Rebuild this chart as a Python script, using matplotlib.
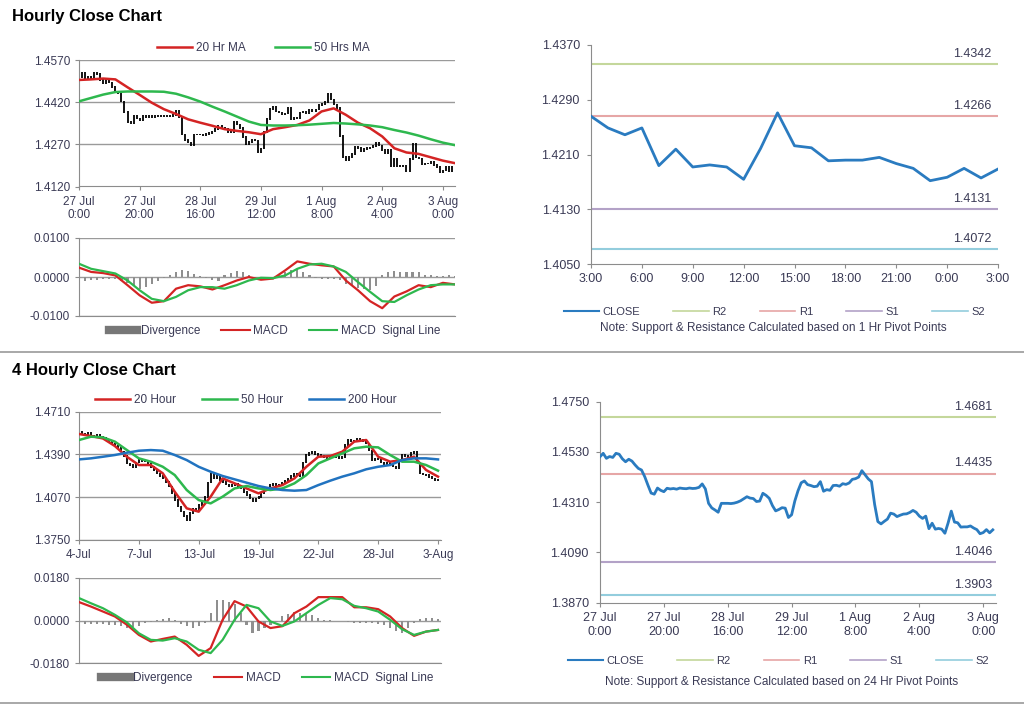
import numpy as np
import matplotlib
matplotlib.use('Agg')
import matplotlib.pyplot as plt
from matplotlib.lines import Line2D

plt.rcParams['font.family'] = ['Liberation Sans', 'DejaVu Sans']

# ---------------- data ----------------
# hourly closes, 27 Jul 0:00 -> 3 Aug 3:00
hourly_close = [
    1.4509, 1.4524, 1.4502, 1.4510, 1.4506, 1.4524, 1.4520, 1.4500, 1.4487, 1.4498,
    1.4490, 1.4473, 1.4458, 1.4451, 1.4422, 1.4385, 1.4350, 1.4345, 1.4372, 1.4362,
    1.4356, 1.4371, 1.4368, 1.4370, 1.4367, 1.4372, 1.4370, 1.4369, 1.4372, 1.4370,
    1.4371, 1.4375, 1.4390, 1.4368, 1.4305, 1.4285, 1.4276, 1.4266, 1.4305, 1.4305,
    1.4305, 1.4304, 1.4306, 1.4310, 1.4316, 1.4325, 1.4334, 1.4328, 1.4326, 1.4313,
    1.4315, 1.4349, 1.4340, 1.4327, 1.4295, 1.4272, 1.4278, 1.4286, 1.4284, 1.4243,
    1.4255, 1.4315, 1.4360, 1.4395, 1.4403, 1.4387, 1.4383, 1.4378, 1.4380, 1.4400,
    1.4358, 1.4365, 1.4362, 1.4383, 1.4384, 1.4380, 1.4391, 1.4388, 1.4394, 1.4410,
    1.4413, 1.4420, 1.4448, 1.4430, 1.4412, 1.4400, 1.4300, 1.4225, 1.4215, 1.4226,
    1.4236, 1.4262, 1.4258, 1.4247, 1.4253, 1.4258, 1.4259, 1.4265, 1.4274,
    1.4266, 1.4249, 1.4239, 1.4249, 1.4194, 1.4218, 1.4192, 1.4195, 1.4192, 1.4174,
    1.4219, 1.4271, 1.4223, 1.4220, 1.4201, 1.4202, 1.4202, 1.4206, 1.4197, 1.4190,
    1.4172, 1.4177, 1.4190, 1.4176, 1.4189]
hourly_labels = ['27 Jul\n0:00', '27 Jul\n20:00', '28 Jul\n16:00', '29 Jul\n12:00',
                 '1 Aug\n8:00', '2 Aug\n4:00', '3 Aug\n0:00']

# moving averages, one value every 4 hours
ma20_h = [1.4499, 1.4501, 1.4504, 1.4501, 1.4473, 1.4446, 1.4418, 1.4395, 1.4378, 1.4359,
          1.4347, 1.4336, 1.4324, 1.4318, 1.4313, 1.4306, 1.4324, 1.4331, 1.4339, 1.4355,
          1.4387, 1.4398, 1.4375, 1.4347, 1.4327, 1.4298, 1.4256, 1.4241, 1.4236, 1.4224,
          1.4212, 1.4203]
ma50_h = [1.4423, 1.4435, 1.4447, 1.4456, 1.4458, 1.4458, 1.4458, 1.4457, 1.4450, 1.4437,
          1.4422, 1.4404, 1.4387, 1.4369, 1.4351, 1.4339, 1.4337, 1.4337, 1.4338, 1.4340,
          1.4343, 1.4346, 1.4344, 1.4341, 1.4337, 1.4331, 1.4321, 1.4312, 1.4301, 1.4288,
          1.4276, 1.4267]
macd_h = [0.0024, 0.0013, 0.0010, 0.0004, -0.0021, -0.0047, -0.0066, -0.0062, -0.0030, -0.0021,
          -0.0024, -0.0032, -0.0021, -0.0009, 0.0000, -0.0007, -0.0004, 0.0017, 0.0040, 0.0034,
          0.0030, 0.0027, -0.0009, -0.0034, -0.0062, -0.0080, -0.0050, -0.0037, -0.0021, -0.0026,
          -0.0015, -0.0019]
signal_h = [0.0034, 0.0021, 0.0015, 0.0009, -0.0009, -0.0034, -0.0056, -0.0062, -0.0051, -0.0034,
            -0.0026, -0.0026, -0.0030, -0.0021, -0.0009, -0.0002, -0.0003, 0.0004, 0.0021, 0.0032,
            0.0034, 0.0027, 0.0013, -0.0013, -0.0038, -0.0062, -0.0064, -0.0047, -0.0032, -0.0021,
            -0.0019, -0.0019]
# divergence, one value every 2 hours
div_h = [-0.0010, -0.0009, -0.0008, -0.0007, -0.0006, -0.0005, -0.0006, -0.0010, -0.0016, -0.0024,
         -0.0030, -0.0026, -0.0018, -0.0010, -0.0003, 0.0006, 0.0014, 0.0019, 0.0016, 0.0008,
         0.0002, -0.0003, -0.0007, -0.0010, 0.0004, 0.0011, 0.0015, 0.0012, 0.0006, -0.0002,
         -0.0005, -0.0003, -0.0002, 0.0007, 0.0013, 0.0018, 0.0021, 0.0014, 0.0006, -0.0002,
         -0.0004, -0.0005, -0.0006, -0.0008, -0.0018, -0.0024, -0.0028, -0.0031, -0.0034, -0.0022,
         0.0004, 0.0013, 0.0015, 0.0014, 0.0013, 0.0012, 0.0012, 0.0006, 0.0004, 0.0003,
         0.0003, 0.0004, 0.0003]

# 4 hourly closes, 4 Jul -> 3 Aug
h4_close = [
    1.4560, 1.4548, 1.4543, 1.4550, 1.4528, 1.4532, 1.4535, 1.4520, 1.4512, 1.4500,
    1.4486, 1.4470, 1.4453, 1.4440, 1.4411, 1.4380, 1.4323, 1.4310, 1.4298, 1.4330,
    1.4348, 1.4340, 1.4336, 1.4320, 1.4298, 1.4270, 1.4249, 1.4230, 1.4211, 1.4185,
    1.4149, 1.4100, 1.4049, 1.4000, 1.3962, 1.3930, 1.3899, 1.3950, 1.3987, 1.3975,
    1.4012, 1.4040, 1.4074, 1.4180, 1.4249, 1.4210, 1.4236, 1.4200, 1.4186, 1.4165,
    1.4149, 1.4160, 1.4169, 1.4150, 1.4136, 1.4110, 1.4086, 1.4060, 1.4044, 1.4060,
    1.4074, 1.4100, 1.4119, 1.4140, 1.4161, 1.4170, 1.4154, 1.4165, 1.4179, 1.4195,
    1.4211, 1.4230, 1.4249, 1.4240, 1.4224, 1.4330, 1.4386, 1.4400, 1.4411, 1.4395,
    1.4386, 1.4380, 1.4373, 1.4365, 1.4368, 1.4372, 1.4370, 1.4360, 1.4373, 1.4460,
    1.4498, 1.4490, 1.4493, 1.4510, 1.4503, 1.4490, 1.4473, 1.4420, 1.4348, 1.4360,
    1.4353, 1.4330, 1.4311, 1.4325, 1.4323, 1.4300, 1.4286, 1.4350, 1.4386, 1.4380,
    1.4373, 1.4400, 1.4411, 1.4330, 1.4249, 1.4240, 1.4236, 1.4220, 1.4211, 1.4200,
    1.4194]
h4_labels = ['4-Jul', '7-Jul', '13-Jul', '19-Jul', '22-Jul', '28-Jul', '3-Aug']

ma20_4h = [1.4543, 1.4528, 1.4510, 1.4453, 1.4373, 1.4311, 1.4311, 1.4249, 1.4111, 1.3987,
           1.3962, 1.4074, 1.4211, 1.4174, 1.4136, 1.4099, 1.4136, 1.4161, 1.4211, 1.4298,
           1.4373, 1.4378, 1.4411, 1.4486, 1.4498, 1.4373, 1.4336, 1.4348, 1.4373, 1.4274,
           1.4224]
ma50_4h = [1.4498, 1.4523, 1.4518, 1.4486, 1.4423, 1.4361, 1.4336, 1.4298, 1.4236, 1.4124,
           1.4049, 1.4024, 1.4074, 1.4136, 1.4154, 1.4136, 1.4124, 1.4136, 1.4174, 1.4236,
           1.4323, 1.4361, 1.4398, 1.4436, 1.4448, 1.4443, 1.4386, 1.4336, 1.4336, 1.4311,
           1.4269]
ma200_4h = [1.4353, 1.4361, 1.4373, 1.4386, 1.4403, 1.4418, 1.4423, 1.4418, 1.4386, 1.4348,
            1.4298, 1.4261, 1.4229, 1.4204, 1.4179, 1.4154, 1.4136, 1.4124, 1.4119, 1.4124,
            1.4161, 1.4194, 1.4224, 1.4249, 1.4279, 1.4298, 1.4311, 1.4348, 1.4361, 1.4361,
            1.4353]
macd_4h = [0.0078, 0.0059, 0.0038, 0.0017, -0.0018, -0.0061, -0.0089, -0.0078, -0.0068, -0.0103,
           -0.0150, -0.0117, 0.0003, 0.0082, 0.0059, -0.0004, -0.0032, -0.0024, 0.0031, 0.0059,
           0.0099, 0.0099, 0.0099, 0.0056, 0.0056, 0.0048, 0.0017, -0.0032, -0.0065, -0.0047,
           -0.0040]
signal_4h = [0.0095, 0.0073, 0.0052, 0.0024, -0.0008, -0.0054, -0.0082, -0.0085, -0.0075, -0.0089,
             -0.0124, -0.0138, -0.0082, 0.0003, 0.0066, 0.0052, -0.0004, -0.0023, -0.0004, 0.0031,
             0.0066, 0.0095, 0.0090, 0.0062, 0.0052, 0.0038, 0.0003, -0.0037, -0.0061, -0.0047,
             -0.0040]
div_4h = [-0.0012, -0.0014, -0.0014, -0.0016, -0.0015, -0.0018, -0.0020, -0.0025, -0.0030, -0.0028,
          -0.0022, -0.0012, -0.0006, 0.0002, 0.0008, 0.0010, 0.0004, -0.0015, -0.0025, -0.0030,
          -0.0025, -0.0012, 0.0030, 0.0088, 0.0085, 0.0080, 0.0070, 0.0030, -0.0020, -0.0054,
          -0.0045, -0.0030, -0.0020, -0.0008, 0.0018, 0.0028, 0.0034, 0.0032, 0.0028, 0.0022,
          0.0010, 0.0004, 0.0002, 0.0000, -0.0004, -0.0008, -0.0010, -0.0012, -0.0010, -0.0012,
          -0.0015, -0.0020, -0.0030, -0.0045, -0.0054, -0.0030, -0.0010, 0.0006, 0.0012, 0.0010,
          0.0006]

# pivot levels
pivot_names = ['R2', 'R1', 'S1', 'S2']
pivot_1h = [1.4342, 1.4266, 1.4131, 1.4072]
pivot_24h = [1.4681, 1.4435, 1.4046, 1.3903]
hour_labels = ['3:00', '6:00', '9:00', '12:00', '15:00', '18:00', '21:00', '0:00', '3:00']

# ---------------- styles ----------------
RED = '#d42424'
GREEN = '#2eb84e'
BLUE = '#2173c0'
CLOSE_BLUE = '#2a7bc0'
PIVOT_COLORS = ['#c4d79b', '#e6a6a6', '#b3a2c7', '#93cddd']
GRID = '#9a9a9a'
SPINE = '#8c8c8c'
TXT = '#3a3a55'
W, H = 1024, 706


def box(l, t, r, b):
    return [l / W, 1 - b / H, (r - l) / W, (b - t) / H]


def style(ax, grid=True):
    for s in ['top', 'right']:
        ax.spines[s].set_visible(False)
    for s in ['left', 'bottom']:
        ax.spines[s].set_color(SPINE)
    ax.tick_params(colors=SPINE, labelcolor=TXT, labelsize=8.5, length=3)
    if grid:
        ax.yaxis.grid(True, color=GRID, lw=1)
        ax.set_axisbelow(True)


def price_panel(ax, close, ylim, step, labels, wick):
    close = np.asarray(close)
    x = np.arange(len(close))
    prev = np.r_[close[0], close[:-1]]
    ax.vlines(x, np.minimum(prev, close) - wick, np.maximum(prev, close) + wick,
              color='black', lw=1.3, zorder=2)
    ax.set_ylim(*ylim)
    ax.set_yticks(np.arange(ylim[0], ylim[1] + step / 2, step))
    ax.yaxis.set_major_formatter(matplotlib.ticker.FormatStrFormatter('%.4f'))
    ax.set_xticks(np.arange(0, 20 * len(labels), 20))
    ax.set_xticklabels(labels)
    style(ax)


def macd_panel(ax, n, macd, signal, div, lim):
    ax.bar(np.arange(len(div)) * 2, div, width=0.7, color='#8f8f8f', zorder=2)
    ax.plot(np.arange(len(macd)) * 4, macd, color=RED, lw=1.6, zorder=3)
    ax.plot(np.arange(len(signal)) * 4, signal, color=GREEN, lw=1.6, zorder=3)
    ax.set_xlim(0, n)
    ax.set_ylim(-lim, lim)
    ax.set_yticks([-lim, 0, lim])
    ax.yaxis.set_major_formatter(matplotlib.ticker.FormatStrFormatter('%.4f'))
    ax.set_xticks([])
    style(ax)
    handles = [Line2D([], [], color='#777777', lw=6),
               Line2D([], [], color=RED, lw=1.5),
               Line2D([], [], color=GREEN, lw=1.5)]
    ax.legend(handles, ['Divergence', 'MACD', 'MACD  Signal Line'], loc='upper center',
              bbox_to_anchor=(0.52, 0.02), ncol=3, frameon=False, fontsize=8.5,
              handlelength=2.4, handletextpad=0.3, columnspacing=1.8, labelcolor=TXT)


def pivot_panel(ax, x, close, levels, lab_x, xlim, ylim, step, ticks, labels, leg_y):
    ax.plot(x, close, color=CLOSE_BLUE, lw=2, zorder=3)
    for v, c in zip(levels, PIVOT_COLORS):
        ax.axhline(v, color=c, lw=1.5, zorder=2)
        ax.annotate(f'{v:.4f}', (lab_x, v), xytext=(0, 3), textcoords='offset points',
                    ha='center', va='bottom', fontsize=9, color=TXT)
    ax.set_xlim(*xlim)
    ax.set_ylim(*ylim)
    ax.set_yticks(np.arange(ylim[0], ylim[1] + step / 2, step))
    ax.yaxis.set_major_formatter(matplotlib.ticker.FormatStrFormatter('%.4f'))
    ax.set_xticks(ticks)
    ax.set_xticklabels(labels)
    style(ax, grid=False)
    ax.tick_params(labelsize=9)
    ax.tick_params(axis='y', pad=5)
    handles = [Line2D([], [], color=CLOSE_BLUE, lw=1.5)] + \
              [Line2D([], [], color=c, lw=1.2) for c in PIVOT_COLORS]
    ax.legend(handles, ['CLOSE'] + pivot_names, loc='upper center',
              bbox_to_anchor=(0.45, leg_y), ncol=5, frameon=False, fontsize=8,
              handlelength=3.2, handletextpad=0.3, columnspacing=3.0, labelcolor=TXT)


fig = plt.figure(figsize=(W / 100, H / 100), dpi=100)

# ---------------- hourly ----------------
fig.text(12 / W, 1 - 16 / H, 'Hourly Close Chart', fontsize=12, weight='bold', va='center')

ax1 = fig.add_axes(box(79, 60, 455, 186.5))
price_panel(ax1, hourly_close, (1.4120, 1.4570), 0.0150, hourly_labels, 0.0003)
ax1.plot(np.arange(len(ma20_h)) * 4, ma20_h, color=RED, lw=1.8, zorder=3, label='20 Hr MA')
ax1.plot(np.arange(len(ma50_h)) * 4, ma50_h, color=GREEN, lw=1.8, zorder=3, label='50 Hrs MA')
ax1.set_xlim(0, 124)
ax1.legend(loc='lower center', bbox_to_anchor=(0.49, 1.0), ncol=2, frameon=False,
           fontsize=8.5, handlelength=3.0, handletextpad=0.3, columnspacing=2.5,
           labelcolor=TXT, borderaxespad=0.1)

ax2 = fig.add_axes(box(79, 238, 455, 316))
macd_panel(ax2, 124, macd_h, signal_h, div_h, 0.0100)

ax3 = fig.add_axes(box(591, 45, 998, 264.3))
last = hourly_close[-25:]
pivot_panel(ax3, np.arange(len(last)), last, pivot_1h, 22.5, (0, 24), (1.4050, 1.4370), 0.0080,
            np.arange(0, 25, 3), hour_labels, -0.15)
fig.text(773 / W, 1 - 328 / H, 'Note: Support & Resistance Calculated based on 1 Hr Pivot Points',
         ha='center', va='center', fontsize=8.5, color=TXT)

fig.add_artist(Line2D([0, 1], [1 - 352 / H] * 2, color='#9a9a9a', lw=1.2,
                      transform=fig.transFigure))

# ---------------- 4 hourly ----------------
fig.text(12 / W, 1 - 370 / H, '4 Hourly Close Chart', fontsize=12, weight='bold', va='center')

ax4 = fig.add_axes(box(79, 411.7, 441, 540))
price_panel(ax4, h4_close, (1.3750, 1.4710), 0.0320, h4_labels, 0.0006)
ax4.plot(np.arange(len(ma20_4h)) * 4, ma20_4h, color=RED, lw=1.8, zorder=3, label='20 Hour')
ax4.plot(np.arange(len(ma50_4h)) * 4, ma50_4h, color=GREEN, lw=1.8, zorder=3, label='50 Hour')
ax4.plot(np.arange(len(ma200_4h)) * 4, ma200_4h, color=BLUE, lw=1.8, zorder=3, label='200 Hour')
ax4.set_xlim(0, 121)
ax4.legend(loc='lower center', bbox_to_anchor=(0.46, 1.0), ncol=3, frameon=False,
           fontsize=8.5, handlelength=3.0, handletextpad=0.3, columnspacing=2.2,
           labelcolor=TXT, borderaxespad=0.1)

ax5 = fig.add_axes(box(79, 578, 441, 663))
macd_panel(ax5, 121, macd_4h, signal_4h, div_4h, 0.0180)

ax6 = fig.add_axes(box(600, 401.7, 996, 602.7))
pivot_panel(ax6, np.arange(len(hourly_close)), hourly_close, pivot_24h, 116.8, (0, 124),
            (1.3870, 1.4750), 0.0220, np.arange(0, 121, 20), hourly_labels, -0.215)
fig.text(782 / W, 1 - 682 / H, 'Note: Support & Resistance Calculated based on 24 Hr Pivot Points',
         ha='center', va='center', fontsize=8.5, color=TXT)

fig.add_artist(Line2D([0, 1], [1 - 703 / H] * 2, color='#9a9a9a', lw=1.2,
                      transform=fig.transFigure))

fig.savefig('out.png', dpi=100)
